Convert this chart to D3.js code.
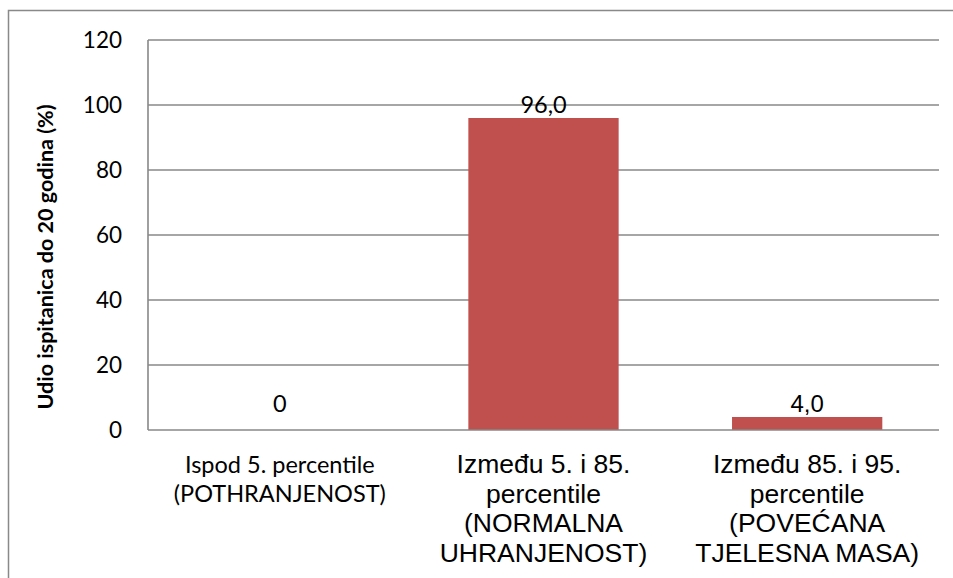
<!DOCTYPE html>
<html><head><meta charset="utf-8">
<script src="https://cdn.jsdelivr.net/npm/d3@7"></script>
<style>body{margin:0;background:#fff;} svg{display:block;}</style>
</head><body>
<script>
const categories = [
  ["Ispod 5. percentile", "(POTHRANJENOST)"],
  ["Između 5. i 85.", "percentile", "(NORMALNA", "UHRANJENOST)"],
  ["Između 85. i 95.", "percentile", "(POVEĆANA", "TJELESNA MASA)"]
];
const values = [0, 96.0, 4.0];
const valueLabels = ["0", "96,0", "4,0"];
const yTicks = [0, 20, 40, 60, 80, 100, 120];
const yTitle = "Udio ispitanica do 20 godina (%)";

const W = 953, H = 578;
const svg = d3.select("body").append("svg").attr("width", W).attr("height", H);

// outer frame
svg.append("path").attr("d", `M8.5,${H} V10.5 H${W}`).attr("fill","none").attr("stroke","#898989").attr("stroke-width",1.5);

const x0 = 148, x1 = 939, yTop = 40, yBot = 430;
const x = d3.scaleBand().domain(d3.range(categories.length)).range([x0, x1]).paddingInner(0.43).paddingOuter(0.215);
const y = d3.scaleLinear().domain([0, 120]).range([yBot, yTop]);

const calibriLike = "Lato, 'Open Sans', sans-serif";
const arialLike = "'Liberation Sans', Arial, sans-serif";

// gridlines
svg.append("g").selectAll("line").data(yTicks.filter(t => t > 0)).join("line")
  .attr("x1", x0).attr("x2", x1).attr("y1", d => y(d)).attr("y2", d => y(d))
  .attr("stroke", "#888").attr("stroke-width", 1.6);
// left axis line
svg.append("line").attr("x1", x0).attr("x2", x0).attr("y1", yTop).attr("y2", yBot).attr("stroke","#888").attr("stroke-width",1.6);

// y tick labels
svg.append("g").selectAll("text").data(yTicks).join("text")
  .attr("x", 122).attr("y", d => y(d) + 8)
  .attr("text-anchor", "end").attr("font-family", calibriLike)
  .attr("font-size", 22.5).attr("fill", "#000").text(d => d);

// bars
svg.append("g").selectAll("rect").data(values).join("rect")
  .attr("x", (d, i) => x(i)).attr("width", x.bandwidth())
  .attr("y", d => y(d)).attr("height", d => yBot - y(d))
  .attr("fill", "#C0504D");

// x axis line
svg.append("line").attr("x1", x0).attr("x2", x1).attr("y1", yBot).attr("y2", yBot).attr("stroke","#888").attr("stroke-width",1.6);

// value labels
const labelFonts = [calibriLike, calibriLike, arialLike];
svg.append("g").selectAll("text").data(values).join("text")
  .attr("x", (d, i) => x(i) + x.bandwidth() / 2)
  .attr("y", d => d === 0 ? y(d) - 18 : y(d) - 5)
  .attr("text-anchor", "middle")
  .attr("font-family", (d, i) => labelFonts[i])
  .attr("font-size", (d, i) => i === 2 ? 24 : 23.5)
  .attr("fill", "#000")
  .text((d, i) => valueLabels[i]);

// category labels
categories.forEach((lines, i) => {
  const cx = x(i) + x.bandwidth() / 2;
  const first = i === 0;
  const t = svg.append("text").attr("text-anchor", "middle")
    .attr("font-family", first ? calibriLike : arialLike)
    .attr("font-size", first ? 23.5 : 26.5).attr("fill", "#000");
  lines.forEach((ln, j) => {
    t.append("tspan").attr("x", cx).attr("y", 473 + j * (first ? 29 : 29.7)).text(ln);
  });
});

// y title
svg.append("text")
  .attr("transform", `translate(53, ${(yTop + yBot) / 2 + 22}) rotate(-90)`)
  .attr("text-anchor", "middle").attr("font-family", calibriLike)
  .attr("font-weight", "bold").attr("font-size", 21.5).attr("fill", "#000").text(yTitle);
</script>
</body></html>
